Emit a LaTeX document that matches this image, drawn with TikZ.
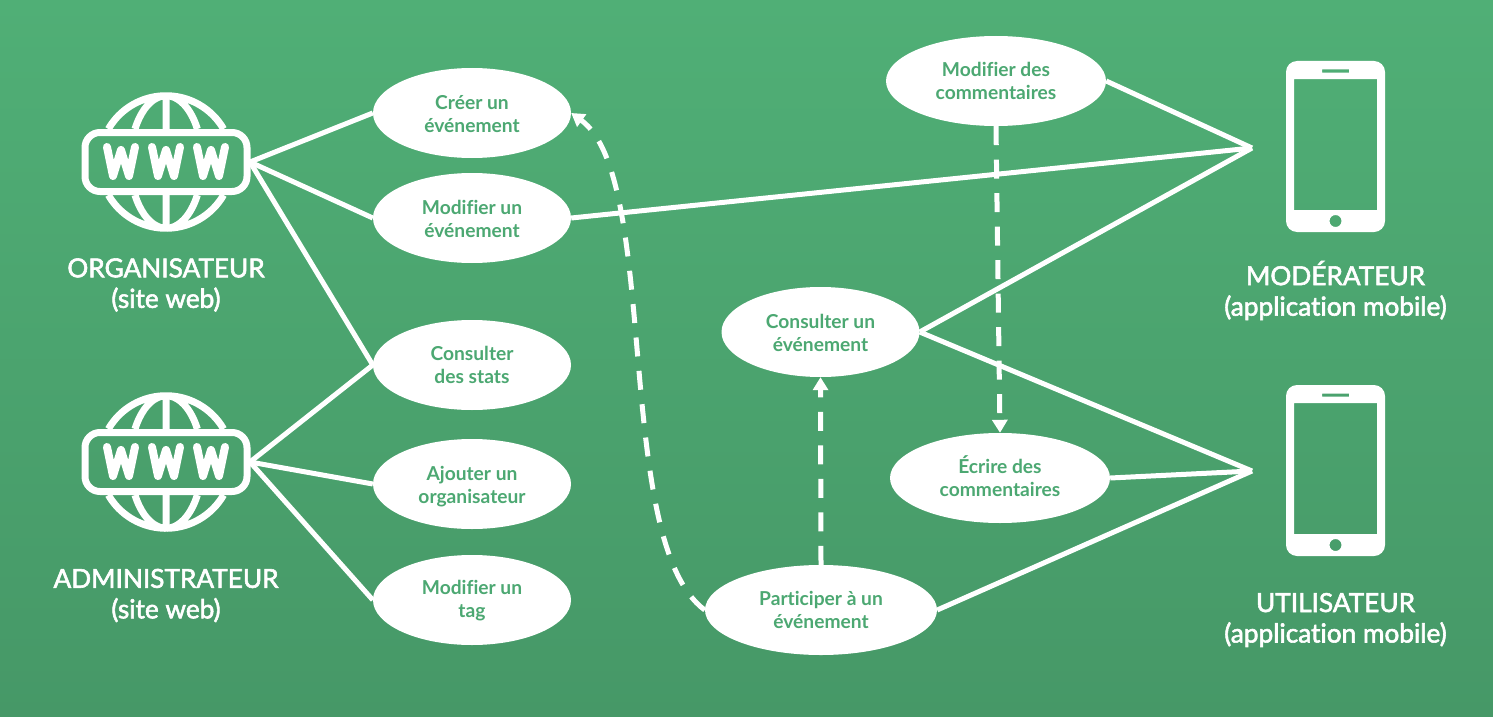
\documentclass[tikz,border=0pt]{standalone}
\usepackage{fontspec}
\setmainfont[RawFeature={-liga}]{Lato}
\newfontface\actorface[RawFeature={-liga},FakeBold=2.2]{Lato}
\usetikzlibrary{arrows.meta,positioning,shapes.geometric}
\definecolor{bgTop}{RGB}{80,175,118}
\definecolor{bgBottom}{RGB}{70,152,103}
\definecolor{caseText}{RGB}{76,168,114}
\tikzset{
  pics/wwwicon/.style={code={
    \draw[white,line width=7pt,rounded corners=15pt] (-81,-29.5) rectangle (81,29.5);
    \draw[white,line width=7pt]
      (-57.6,-33) arc[start angle=150,end angle=30,x radius=66.5pt,y radius=66.5pt]
      (-31,-33) arc[start angle=150,end angle=30,x radius=36pt,y radius=66.5pt]
      (-57.6,33) arc[start angle=210,end angle=330,x radius=66.5pt,y radius=66.5pt]
      (-31,33) arc[start angle=210,end angle=330,x radius=36pt,y radius=66.5pt]
      (0,-66.5) -- (0,-33) (0,33) -- (0,66.5);
    \foreach \dx in {-45,0,45}
      \draw[white,line width=8pt,line cap=round,line join=round,xshift=\dx pt]
        (-14,-15) -- (-8,14) -- (0,-12) -- (8,14) -- (14,-15);
  }},
  pics/phoneicon/.style={code={
    \fill[white,even odd rule,rounded corners=11pt] (-49.5,-85.5) rectangle (49.5,85.5)
      [sharp corners] (-41.5,-67.5) rectangle (41.5,63.5)
      (-13.5,-77) rectangle (13.5,-74)
      (0,74.5) circle[radius=6pt];
  }}
}
\begin{document}
\begin{tikzpicture}[x=1pt,y=-1pt,on grid]
  \tikzstyle{usecase} = [fill=white, ellipse, inner sep=0pt, minimum width=198pt, minimum height=90pt, align=center, text height=38pt, text depth=0pt, text=caseText, font={\fontsize{19.2}{23}\selectfont\bfseries}]
  \tikzstyle{actorName} = [text=white, align=center, font={\fontsize{26.2}{30.5}\selectfont\actorface}]
  \tikzstyle{link} = [white, line width=5pt];
  \tikzstyle{extend} = [link, dash pattern=on 19pt off 14.5pt, -{Triangle[length=13pt,width=15pt]}];

  \fill[top color=bgTop, bottom color=bgBottom] (0,0) rectangle (1493,717);
  \useasboundingbox (0,0) rectangle (1493,717);

  % actors
  \pic at (166,162) {wwwicon};
  \pic at (166,462) {wwwicon};
  \pic at (1335.5,146.5) {phoneicon};
  \pic at (1335.5,470.5) {phoneicon};
  \coordinate (orga) at (250,162);
  \coordinate (admin) at (250,462);
  \coordinate (modo) at (1252,148);
  \coordinate (util) at (1252,471);

  \node[actorName](orgaLabel) at (166,285) {ORGANISATEUR\\(site web)};
  \node[actorName](adminLabel) at (166,595.5) {ADMINISTRATEUR\\(site web)};
  \node[actorName](modoLabel) at (1335.5,290.5) {MODÉRATEUR\\(application mobile)};
  \node[actorName](utilLabel) at (1335.5,620) {UTILISATEUR\\(application mobile)};

  % use cases
  \node[usecase](creer) at (472,113) {Créer un\\événement};
  \node[usecase](modif) [below=105pt of creer] {Modifier un\\événement};
  \node[usecase, text height=36pt](stats) [below=147pt of modif] {Consulter\\des stats};
  \node[usecase](ajout) [below=119pt of stats] {Ajouter un\\organisateur};
  \node[usecase, text height=35pt](tag) [below=116pt of ajout] {Modifier un\\tag};
  \node[usecase, minimum width=220pt, text height=36pt](comm) at (996,81) {Modifier des\\commentaires};
  \node[usecase](cons) at (820.5,332) {Consulter un\\événement};
  \node[usecase, minimum width=220pt, text height=36pt](ecrire) at (1000,478) {Écrire des\\commentaires};
  \node[usecase, minimum width=232pt, text height=36pt](part) at (821,610) {Participer à un\\événement};

  % links
  \draw[extend] (part.west) .. controls (612,542) and (661,178) .. (creer.east);
  \draw[extend] (comm.south) -- (ecrire.north);
  \draw[extend] (part.north) -- (cons.south);
  \draw[link] (orga) -- (creer.west);
  \draw[link] (orga) -- (modif.west);
  \draw[link] (orga) -- (stats.west);
  \draw[link] (admin) -- (stats.west);
  \draw[link] (admin) -- (ajout.west);
  \draw[link] (admin) -- (tag.west);
  \draw[link] (modif.east) -- (modo);
  \draw[link] (comm.east) -- (modo);
  \draw[link] (cons.east) -- (modo);
  \draw[link] (cons.east) -- (util);
  \draw[link] (ecrire.east) -- (util);
  \draw[link] (part.east) -- (util);
\end{tikzpicture}
\end{document}
